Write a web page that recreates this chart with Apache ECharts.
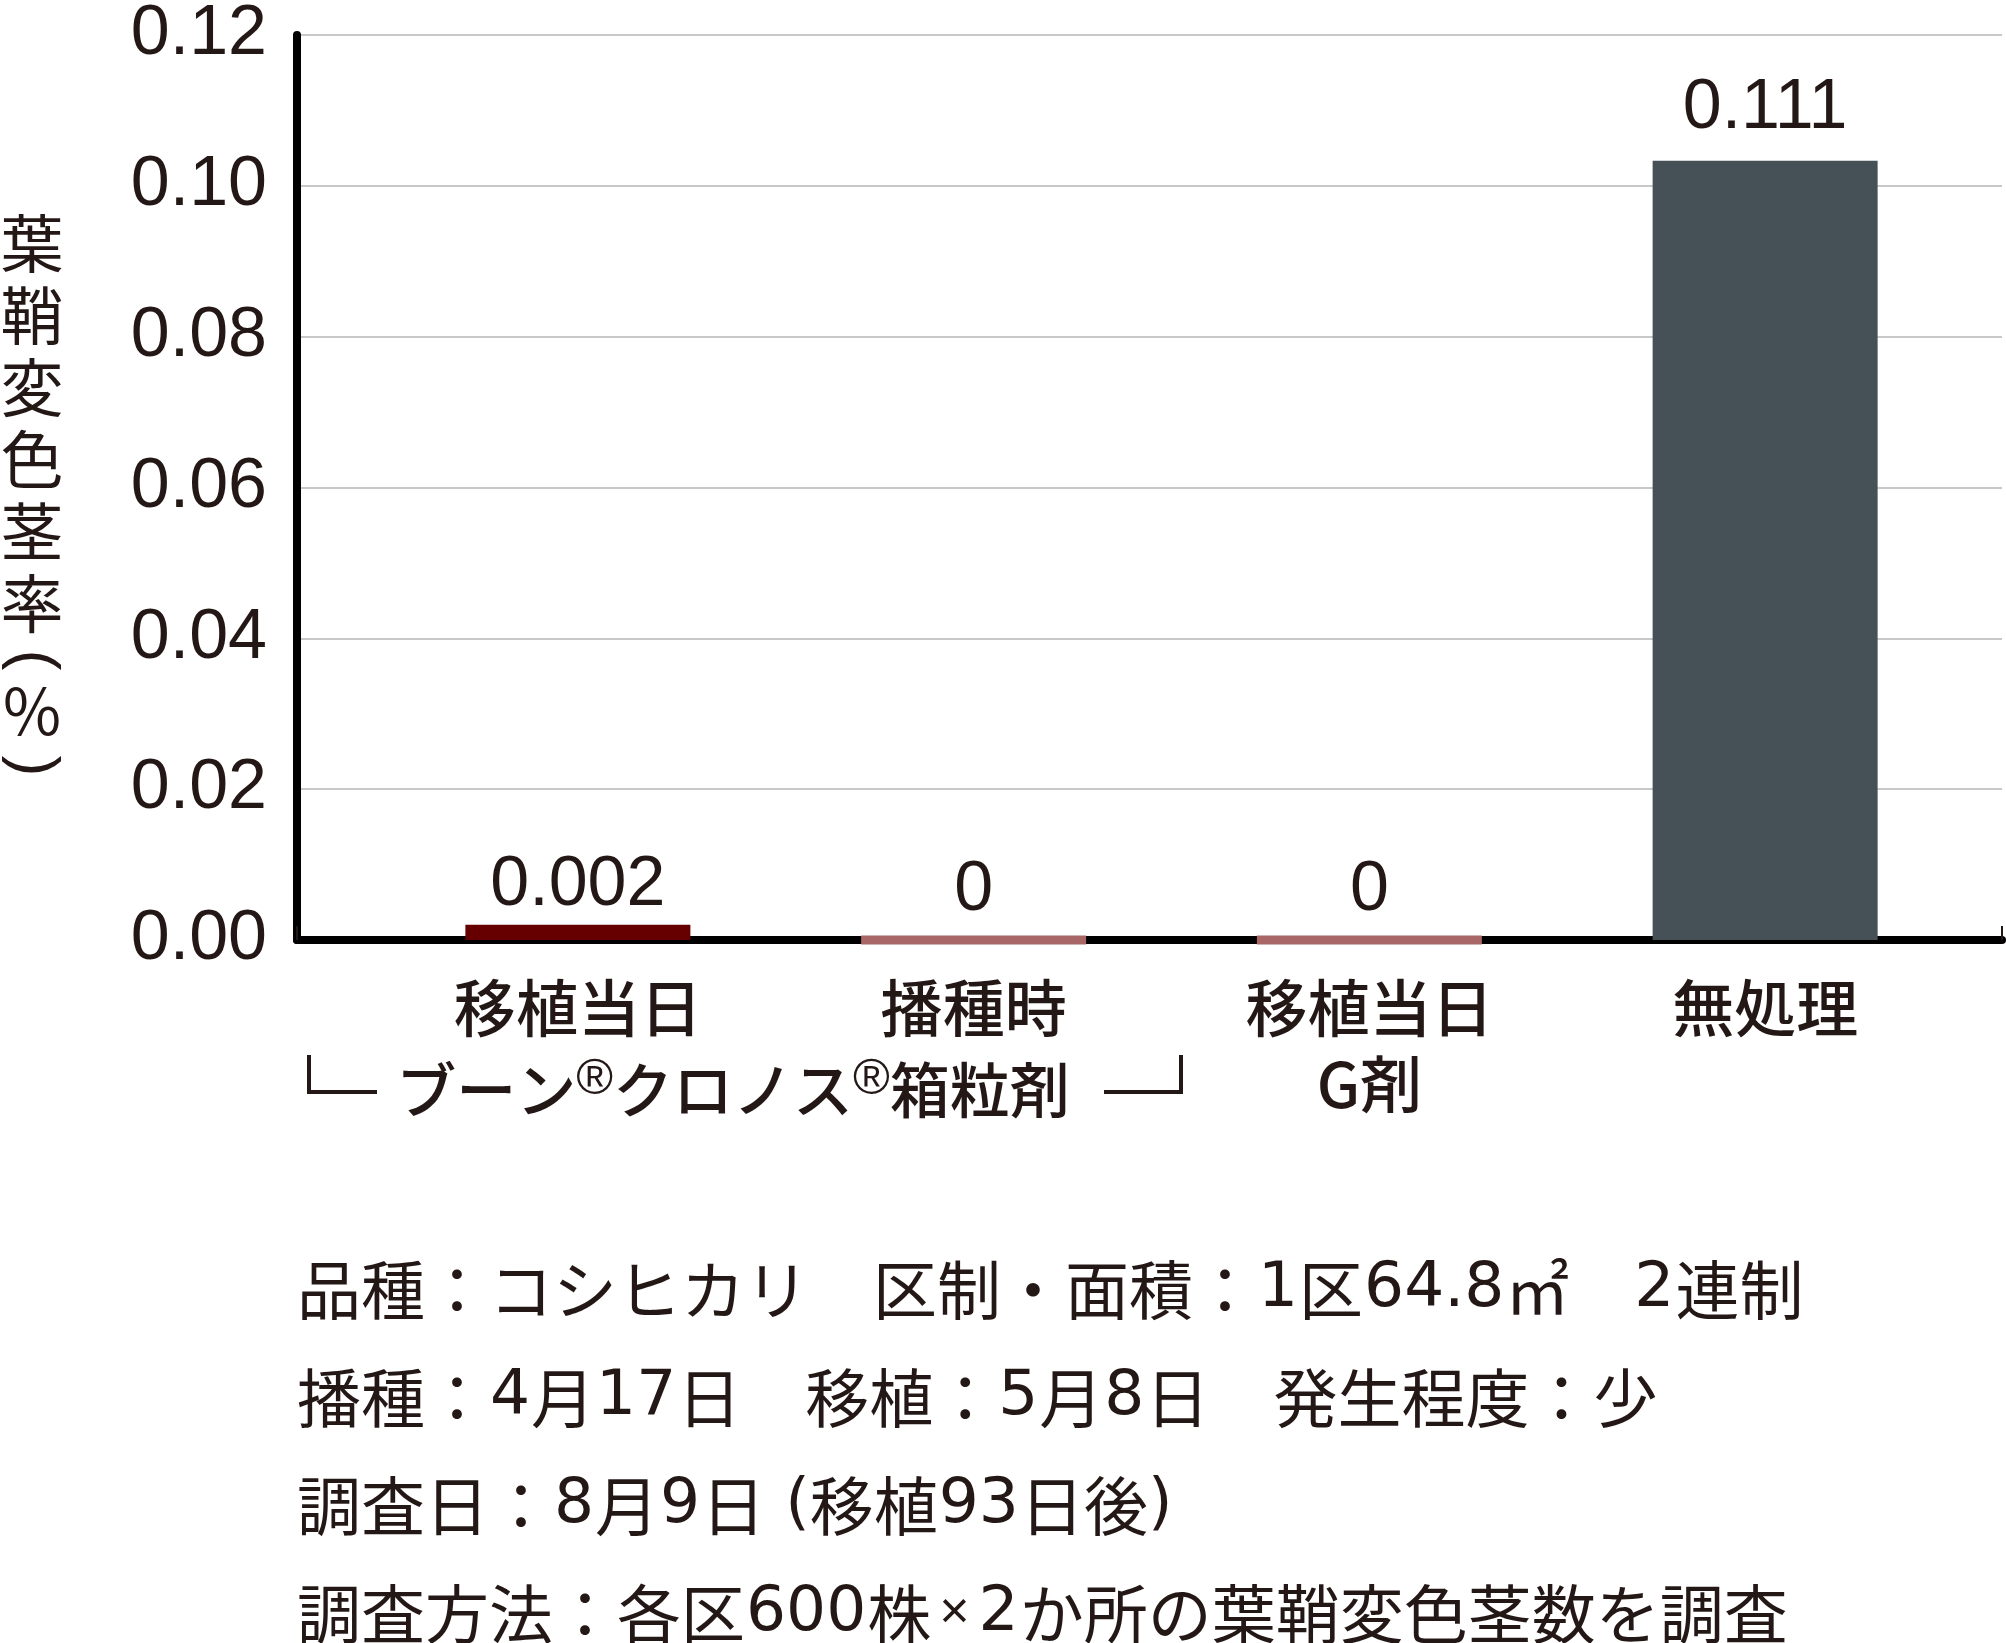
<!DOCTYPE html>
<html><head><meta charset="utf-8">
<script src="https://cdn.jsdelivr.net/npm/echarts@6/dist/echarts.min.js"></script>
<style>html,body{margin:0;padding:0;background:#fff}#c{width:2006px;height:1643px}</style>
</head><body><div id="c"></div>
<script>
// ---- data ----
const categories = ['移植当日', '播種時', '移植当日\nG剤', '無処理'];
const values = [0.002, 0, 0, 0.103];          // bar heights as drawn
const valueLabels = ['0.002', '0', '0', '0.111']; // printed value labels
const yMin = 0, yMax = 0.12, yStep = 0.02;
const yNameChars = ['葉', '鞘', '変', '色', '茎', '率'];
const groupParts = ['ブーン', 'クロノス', '箱粒剤'];
const notes = [
  '品種：コシヒカリ　区制・面積：1区64.8㎡　2連制',
  '播種：4月17日　移植：5月8日　発生程度：少',
  '調査日：8月9日 (移植93日後)',
  '調査方法：各区600株×2か所の葉鞘変色茎数を調査'
];

// ---- styles ----
const ink = '#231815';
const barColors = ['#660000', '#a86666', '#a86666', '#465057'];
const labelGaps = [4, 10, 10, 17];
const cjk = '"Noto Sans CJK JP", sans-serif';
const latin = '"Liberation Sans", Arial, sans-serif';
const deja = '"DejaVu Sans", sans-serif';

function richNote(s) {
  return s.split(/( ?\(|\)|[0-9.]+|×)/).filter(t => t).map(t => {
    if (/^[0-9.]+$/.test(t)) return '{d|' + t + '}';
    if (/^ ?\($|^\)$/.test(t)) return '{p|' + t + '}';
    if (t === '×') return '{x|×}';
    return '{j|' + t + '}';
  }).join('');
}

const mainData = values.map((v, i) => v !== 0
  ? {value: v, itemStyle: {color: barColors[i]}, label: {distance: labelGaps[i]}} : null);
const zeroData = values.map((v, i) => v === 0
  ? {value: v, itemStyle: {color: barColors[i]}, label: {distance: labelGaps[i]}} : null);

const labelStyle = {show: true, position: 'top', fontSize: 70, fontFamily: latin, color: ink,
                    formatter: p => valueLabels[p.dataIndex]};

const chart = echarts.init(document.getElementById('c'), null, {renderer: 'canvas'});
chart.setOption({
  animation: false,
  backgroundColor: '#fff',
  grid: [
    {left: 297, right: 4, top: 32, bottom: 703},
    {left: 380, right: 43, top: 32, bottom: 703},
    {left: 380, right: 43, top: 36.5, bottom: 698.5}
  ],
  xAxis: [
    {gridIndex: 0, type: 'value', min: 0, max: 1, interval: 1,
     axisLine: {show: true, onZero: false, lineStyle: {color: '#000', width: 8}},
     axisTick: {show: true, inside: true, length: 14, lineStyle: {color: ink, width: 2}},
     axisLabel: {show: false}, splitLine: {show: false}},
    {gridIndex: 1, type: 'category', data: categories,
     axisLine: {show: false}, axisTick: {show: false},
     axisLabel: {interval: 0, margin: 30, fontSize: 62, lineHeight: 76,
                 fontFamily: cjk, fontWeight: 500, color: ink}},
    {gridIndex: 2, type: 'category', data: categories, show: false}
  ],
  yAxis: [
    {gridIndex: 0, type: 'value', min: yMin, max: yMax, interval: yStep,
     axisLine: {show: true, lineStyle: {color: '#000', width: 8}},
     axisTick: {show: false},
     axisLabel: {margin: 30, fontSize: 70, fontFamily: latin, color: ink,
                 formatter: v => v.toFixed(2)},
     splitLine: {show: true, lineStyle: {color: '#c8c8c8', width: 2}}},
    {gridIndex: 1, type: 'value', min: yMin, max: yMax, interval: yStep, show: false},
    {gridIndex: 2, type: 'value', min: yMin, max: yMax, interval: yStep, show: false}
  ],
  series: [
    {type: 'bar', xAxisIndex: 1, yAxisIndex: 1, barWidth: 225,
     data: mainData, label: labelStyle},
    {type: 'bar', xAxisIndex: 2, yAxisIndex: 2, barWidth: 225, barMinHeight: 9,
     data: zeroData, label: labelStyle}
  ],
  graphic: [
    {type: 'text', x: 32, y: 207,
     style: {text: yNameChars.join('\n'), fontSize: 63, fontFamily: cjk, fill: ink,
             lineHeight: 72, align: 'center', verticalAlign: 'top',
             textAlign: 'center', textVerticalAlign: 'top'}},
    {type: 'text', x: 32, y: 660, rotation: -Math.PI / 2,
     style: {text: '(', fontSize: 63, fontFamily: latin, fill: ink,
             align: 'center', verticalAlign: 'middle', textAlign: 'center', textVerticalAlign: 'middle'}},
    {type: 'text', x: 32, y: 711,
     style: {text: '％', fontSize: 63, fontFamily: cjk, fill: ink,
             align: 'center', verticalAlign: 'middle', textAlign: 'center', textVerticalAlign: 'middle'}},
    {type: 'text', x: 32, y: 766, rotation: -Math.PI / 2,
     style: {text: ')', fontSize: 63, fontFamily: latin, fill: ink,
             align: 'center', verticalAlign: 'middle', textAlign: 'center', textVerticalAlign: 'middle'}},
    // group bracket
    {type: 'polyline', shape: {points: [[309, 1055], [309, 1092], [377, 1092]]},
     style: {stroke: ink, lineWidth: 4, fill: null}},
    {type: 'polyline', shape: {points: [[1104, 1092], [1181, 1092], [1181, 1055]]},
     style: {stroke: ink, lineWidth: 4, fill: null}},
    {type: 'text', x: 733, y: 1090,
     style: {text: '{k|' + groupParts[0] + '}{r|®}{k|' + groupParts[1] + '}{r|®}{k|' + groupParts[2] + '}',
             align: 'center', verticalAlign: 'middle', textAlign: 'center', textVerticalAlign: 'middle',
             fill: ink,
             rich: {k: {fontSize: 60, fontFamily: cjk, fontWeight: 500, fill: ink, lineHeight: 70},
                    r: {fontSize: 50, fontFamily: latin, fill: ink, verticalAlign: 'top', lineHeight: 50}}}},
    // notes
    {type: 'text', x: 297, y: 1236,
     style: {text: notes.map(richNote).join('\n'), fontSize: 64, fontFamily: cjk, fill: ink, lineHeight: 108,
             align: 'left', verticalAlign: 'top', textAlign: 'left', textVerticalAlign: 'top',
             rich: {j: {fontSize: 64, fontFamily: cjk, fill: ink, lineHeight: 108},
                    d: {fontSize: 63, fontFamily: deja, fill: ink, lineHeight: 108, padding: [0, 1, 0, 1]},
                    p: {fontSize: 63, fontFamily: deja, fill: ink, lineHeight: 108},
                    x: {fontSize: 52, fontFamily: latin, fill: ink, lineHeight: 108, padding: [0, 8, 0, 8]}}}}
  ]
});
</script>
</body></html>
